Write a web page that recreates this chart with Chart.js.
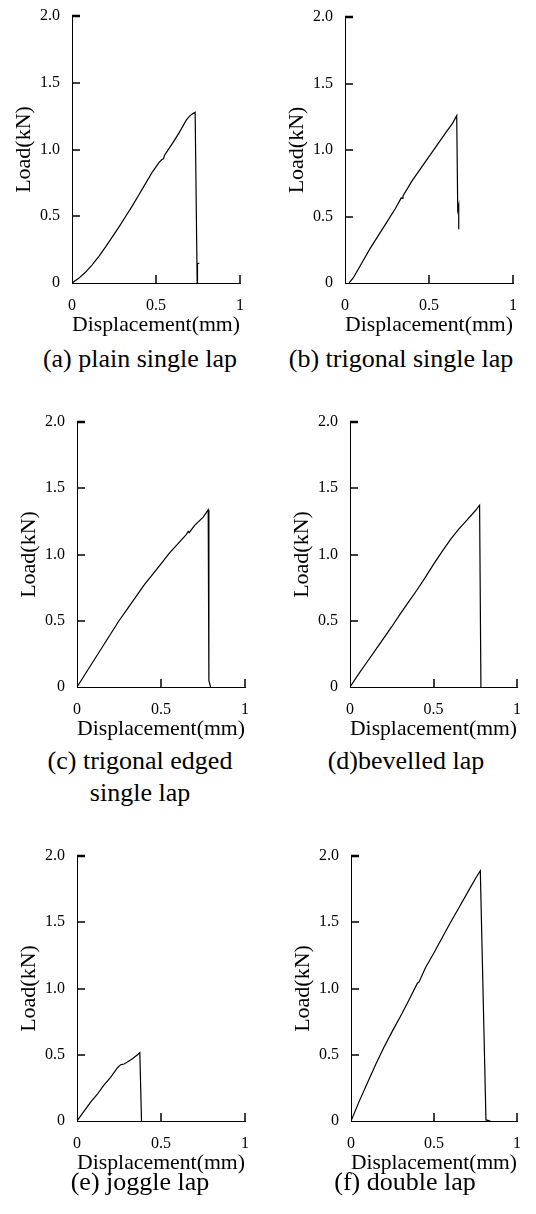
<!DOCTYPE html>
<html>
<head>
<meta charset="utf-8">
<script src="https://cdn.jsdelivr.net/npm/chart.js@4.4.1/dist/chart.umd.min.js"></script>
<style>
  body { margin: 0; background: #fff; width: 536px; height: 1214px; position: relative; overflow: hidden;
         font-family: "Liberation Serif", "Times New Roman", serif; }
  canvas { position: absolute; }
  .cap { position: absolute; width: 260px; text-align: center; font-size: 26px; line-height: 32px;
         color: #000; white-space: nowrap; }
</style>
</head>
<body>
<script>
// load vs displacement curves (mm, kN)
const dispA = [0, 0.04, 0.08, 0.12, 0.16, 0.2, 0.24, 0.28, 0.32, 0.36, 0.4, 0.44, 0.48, 0.52, 0.535, 0.545, 0.55, 0.6, 0.64, 0.68, 0.7, 0.715, 0.733, 0.745, 0.747, 0.758];
const loadA = [0, 0.035, 0.08, 0.135, 0.2, 0.27, 0.345, 0.42, 0.5, 0.58, 0.665, 0.75, 0.835, 0.905, 0.925, 0.93, 0.955, 1.05, 1.13, 1.22, 1.25, 1.265, 1.278, 0, 0.146, 0.148];

const dispB = [0.024, 0.05, 0.1, 0.15, 0.2, 0.25, 0.3, 0.335, 0.34, 0.345, 0.4, 0.45, 0.5, 0.55, 0.6, 0.64, 0.665, 0.671, 0.677, 0.677];
const loadB = [0, 0.04, 0.15, 0.26, 0.36, 0.46, 0.56, 0.64, 0.637, 0.655, 0.77, 0.86, 0.95, 1.04, 1.13, 1.2, 1.258, 0.55, 0.585, 0.405];

const dispC = [0, 0.05, 0.1, 0.15, 0.2, 0.25, 0.3, 0.35, 0.4, 0.45, 0.5, 0.55, 0.6, 0.65, 0.662, 0.668, 0.7, 0.75, 0.781, 0.785, 0.795];
const loadC = [0, 0.1, 0.2, 0.3, 0.4, 0.5, 0.59, 0.68, 0.77, 0.85, 0.93, 1.01, 1.08, 1.15, 1.175, 1.165, 1.22, 1.28, 1.337, 0.05, 0];

const dispD = [0, 0.05, 0.1, 0.15, 0.2, 0.25, 0.3, 0.35, 0.4, 0.45, 0.5, 0.55, 0.6, 0.65, 0.7, 0.75, 0.776, 0.784];
const loadD = [0, 0.095, 0.185, 0.275, 0.365, 0.455, 0.55, 0.64, 0.73, 0.825, 0.925, 1.02, 1.11, 1.19, 1.26, 1.33, 1.372, 0];

const dispE = [0, 0.04, 0.08, 0.12, 0.16, 0.2, 0.24, 0.26, 0.28, 0.3, 0.33, 0.36, 0.374, 0.384];
const loadE = [0, 0.07, 0.14, 0.2, 0.27, 0.33, 0.4, 0.425, 0.43, 0.445, 0.47, 0.5, 0.516, 0];

const dispF = [0, 0.05, 0.1, 0.15, 0.2, 0.25, 0.3, 0.35, 0.4, 0.41, 0.45, 0.5, 0.55, 0.6, 0.65, 0.7, 0.75, 0.779, 0.813, 0.84];
const loadF = [0, 0.15, 0.29, 0.43, 0.56, 0.68, 0.795, 0.915, 1.04, 1.05, 1.16, 1.27, 1.385, 1.5, 1.61, 1.72, 1.83, 1.889, 0.008, 0];

const xTicks = [0, 0.5, 1];
const xTickLabels = ['0', '0.5', '1'];
const yTicks = [0, 0.5, 1, 1.5, 2];
const yTickLabels = ['0', '0.5', '1.0', '1.5', '2.0'];

const captions = [
  ['(a) plain single lap'],
  ['(b) trigonal single lap'],
  ['(c) trigonal edged', 'single lap'],
  ['(d)bevelled lap'],
  ['(e) joggle lap'],
  ['(f) double lap']
];

const series = [[dispA, loadA], [dispB, loadB], [dispC, loadC], [dispD, loadD], [dispE, loadE], [dispF, loadF]];

// plot box of each panel on the page, and caption centre
const panels = [
  { l: 72, t: 16, r: 240, b: 283, cx: 140, cy: 359 },
  { l: 345, t: 17, r: 513, b: 283, cx: 401, cy: 359 },
  { l: 77, t: 422, r: 245, b: 687, cx: 140, cy: 761 },
  { l: 350, t: 422, r: 517, b: 687, cx: 406, cy: 761 },
  { l: 77, t: 856, r: 245, b: 1121, cx: 140, cy: 1182 },
  { l: 351, t: 856, r: 517, b: 1121, cx: 405, cy: 1182 }
];

const FONT = '"Liberation Serif", "Times New Roman", serif';
const Y_W = 70, X_H = 56, PAD_T = 16, PAD_R = 20;

// tick marks pointing into the plot, like the original
const innerTicks = {
  id: 'innerTicks',
  afterDraw(chart) {
    const { ctx, chartArea: a } = chart;
    const sx = chart.scales.x, sy = chart.scales.y;
    ctx.save();
    ctx.strokeStyle = '#000';
    ctx.lineCap = 'butt';
    xTicks.forEach(v => {
      if (v === 0) return;
      const px = Math.round(sx.getPixelForValue(v));
      ctx.lineWidth = 1.5;
      ctx.beginPath();
      ctx.moveTo(px, a.bottom);
      ctx.lineTo(px, a.bottom - 8);
      ctx.stroke();
    });
    yTicks.forEach(v => {
      if (v === 0) return;
      const py = Math.round(sy.getPixelForValue(v));
      ctx.lineWidth = v === 2 ? 2.5 : 1.5;
      ctx.beginPath();
      ctx.moveTo(a.left, py);
      ctx.lineTo(a.left + 8, py);
      ctx.stroke();
    });
    ctx.restore();
  }
};

panels.forEach((p, i) => {
  const left = p.l - Y_W;
  const top = p.t - PAD_T;
  const w = p.r - left + PAD_R;
  const h = p.b - top + X_H;

  const canvas = document.createElement('canvas');
  canvas.width = w;
  canvas.height = h;
  canvas.style.left = left + 'px';
  canvas.style.top = top + 'px';
  document.body.appendChild(canvas);

  const [xs, ys] = series[i];

  new Chart(canvas, {
    type: 'scatter',
    data: {
      datasets: [{
        data: xs.map((v, k) => ({ x: v, y: ys[k] })),
        showLine: true,
        borderColor: '#000',
        borderWidth: 1.2,
        pointRadius: 0,
        tension: 0,
        fill: false
      }]
    },
    options: {
      responsive: false,
      animation: false,
      devicePixelRatio: 1,
      layout: { padding: { top: PAD_T, right: PAD_R, left: 0, bottom: 0 } },
      plugins: { legend: { display: false }, tooltip: { enabled: false } },
      scales: {
        x: {
          type: 'linear',
          min: 0,
          max: 1,
          afterBuildTicks: s => { s.ticks = xTicks.map(v => ({ value: v })); },
          afterFit: s => { s.height = X_H; },
          ticks: {
            autoSkip: false,
            maxRotation: 0,
            padding: 5,
            color: '#000',
            font: { family: FONT, size: 16 },
            callback: (v, k) => xTickLabels[k]
          },
          grid: { display: false },
          border: { display: true, color: '#000', width: 1 },
          title: {
            display: true,
            text: 'Displacement(mm)',
            color: '#000',
            font: { family: FONT, size: 22 },
            padding: { top: 0, bottom: 1 }
          }
        },
        y: {
          min: 0,
          max: 2,
          afterBuildTicks: s => { s.ticks = yTicks.map(v => ({ value: v })); },
          afterFit: s => { s.width = Y_W; },
          ticks: {
            autoSkip: false,
            padding: 4,
            color: '#000',
            font: { family: FONT, size: 16 },
            callback: (v, k) => yTickLabels[k]
          },
          grid: { display: false },
          border: { display: true, color: '#000', width: 1 },
          title: {
            display: true,
            text: 'Load(kN)',
            color: '#000',
            font: { family: FONT, size: 22 },
            padding: { top: 9, bottom: 0 }
          }
        }
      }
    },
    plugins: [innerTicks]
  });

  const cap = document.createElement('div');
  cap.className = 'cap';
  cap.style.left = (p.cx - 130) + 'px';
  cap.style.top = (p.cy - 16) + 'px';
  cap.innerHTML = captions[i].join('<br>');
  document.body.appendChild(cap);
});
</script>
</body>
</html>
